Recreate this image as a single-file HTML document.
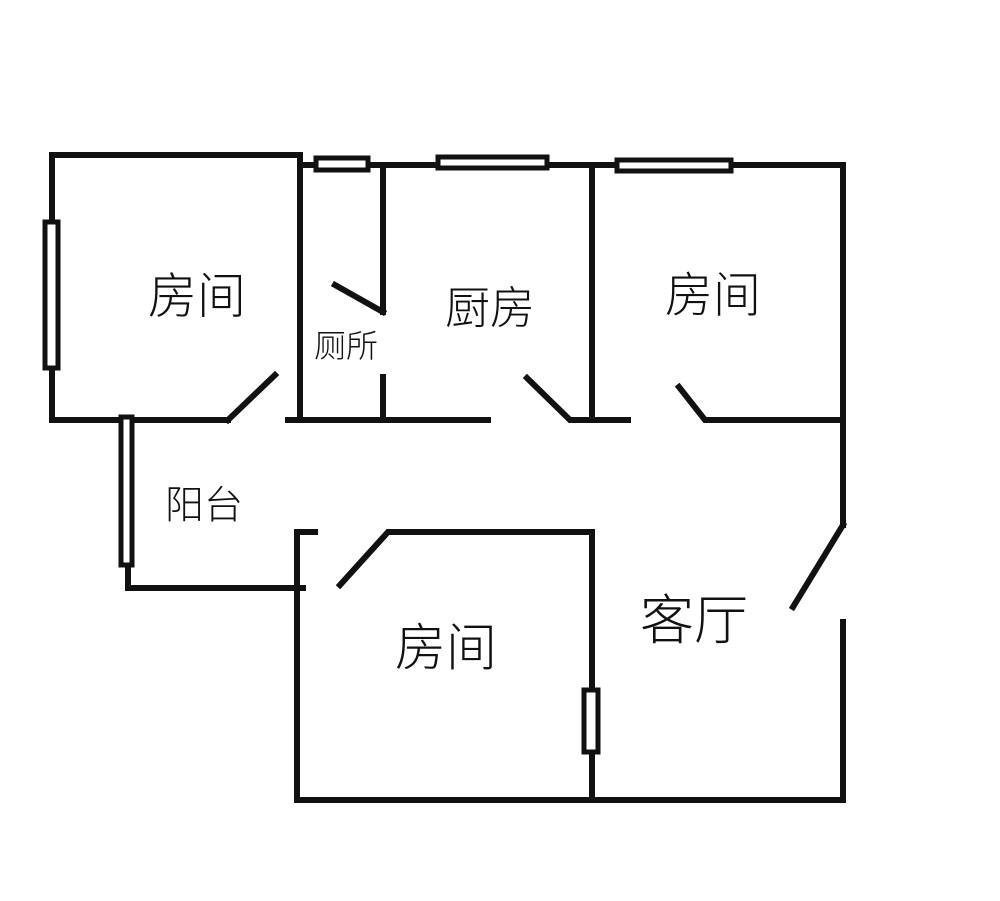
<!DOCTYPE html>
<html><head><meta charset="utf-8"><style>body{margin:0;background:#fff}svg{display:block}text{font-family:"Liberation Sans","Noto Sans CJK SC",sans-serif;font-weight:300;fill:#111;text-anchor:middle;dominant-baseline:central}</style></head>
<body><svg width="1000" height="901" viewBox="0 0 1000 901">
<g stroke="#111" stroke-width="6" fill="none" stroke-linecap="square">
<polyline points="228,420 52,420 52,155 300,155 300,418"/>
<line x1="300" y1="165" x2="843" y2="165"/>
<line x1="843" y1="165" x2="843" y2="525"/>
<line x1="843" y1="525" x2="793" y2="607"/>
<polyline points="843,622 843,800 297,800 297,532 315,532"/>
<line x1="228" y1="420" x2="275" y2="375"/>
<line x1="288" y1="420" x2="488" y2="420"/>
<line x1="383" y1="165" x2="383" y2="312"/>
<line x1="335" y1="285" x2="383" y2="312"/>
<line x1="383" y1="377" x2="383" y2="420"/>
<polyline points="527,378 570,420 628,420"/>
<line x1="592" y1="165" x2="592" y2="420"/>
<polyline points="679,387 705,420 843,420"/>
<polyline points="340,585 388,532 592,532 592,800"/>
<polyline points="128,565 128,588 303,588"/>
</g>
<g stroke="#111" stroke-width="5" fill="#fff">
<rect x="316" y="158" width="52" height="12"/>
<rect x="438" y="157" width="109" height="11"/>
<rect x="617" y="160" width="114" height="11"/>
<rect x="45" y="222" width="13" height="146"/>
<rect x="121" y="417" width="11" height="148"/>
<rect x="584" y="690" width="14" height="62"/>
</g>
<text x="197" y="297" font-size="49">房间</text>
<text x="346" y="346" font-size="32">厕所</text>
<text x="490" y="308" font-size="45">厨房</text>
<text x="713" y="296" font-size="48">房间</text>
<text x="204" y="506" font-size="39">阳台</text>
<text x="446" y="648" font-size="51">房间</text>
<text x="694" y="621" font-size="54">客厅</text>
</svg></body></html>
